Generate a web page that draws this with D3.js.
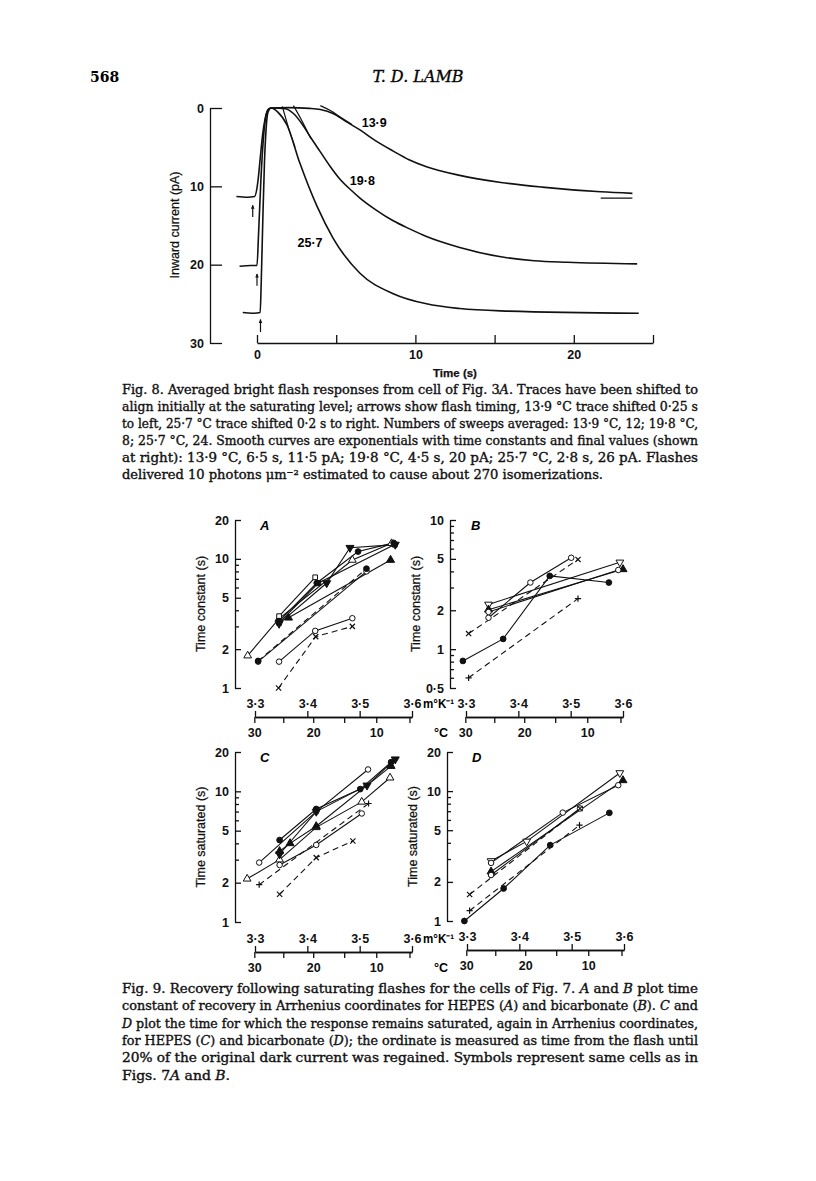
<!DOCTYPE html>
<meta charset="utf-8">
<style>
body{margin:0;background:#fff}
svg{display:block}
.ax text{font-family:"Liberation Sans",Arial,sans-serif;font-weight:bold;font-size:12.5px;fill:#111}
.ax path,.ax line{stroke:#111;stroke-width:1.3;fill:none}
.lbl{font-family:"Liberation Sans",Arial,sans-serif;font-size:12.5px;fill:#111;stroke:#111;stroke-width:0.25}
.cap{font-family:"DejaVu Serif Condensed","DejaVu Serif",serif;font-stretch:condensed;font-size:13px;fill:#111;stroke:#111;stroke-width:0.35}
.trace{fill:none;stroke:#111;stroke-width:1.6}
.ser{fill:none;stroke:#111;stroke-width:1.1}
</style>
<body>
<svg id="page" width="816" height="1181"></svg>
<script src="https://d3js.org/d3.v7.min.js"></script>
<script>
// ---- Fig. 8 data: averaged flash responses, [time (s), inward current (pA)]
var trace139 = [[-1.3,11.3],[-0.6,11.4],[-0.15,11.3],[0.05,9.5],[0.2,6.5],[0.35,3.5],[0.5,1.5],[0.65,0.4],[0.85,0],
  [2,-0.05],[3.3,0.05],[4.0,0.2],[4.8,0.7],[5.6,1.7],[6.5,2.8],[7.5,4.2],[8.6,5.5],[9.6,6.6],[10.7,7.5],
  [12.8,8.6],[15.4,9.5],[18,10.1],[21.7,10.7],[23.7,10.9]];
var trace198 = [[-1.1,20.2],[-0.4,20.1],[0,20.1],[0.1,16],[0.25,9],[0.4,4],[0.55,1.2],[0.75,0.1],[0.95,0],
  [1.8,0.1],[2.3,0.7],[2.9,2.2],[3.4,3.8],[4.0,5.6],[4.6,7.4],[5.2,9.0],[6.0,10.6],[6.5,11.5],[7.5,13.0],
  [8.6,14.4],[9.6,15.4],[10.7,16.4],[12.8,17.8],[15.4,19.0],[17.5,19.5],[19.6,19.7],[24,19.9]];
var trace257 = [[-0.9,26.1],[-0.3,26.2],[0.2,26.1],[0.27,22],[0.37,14],[0.47,7],[0.58,2.5],[0.7,0.5],[0.9,0],
  [1.3,0.5],[1.9,2.2],[2.7,7.0],[3.8,12.6],[4.8,16.6],[6.5,21.1],[8.6,23.7],[10.7,25.0],[12.8,25.6],
  [15.4,25.9],[24.1,26.2]];
// start of the fitted exponentials where they leave the traces
var fit139 = [[4.0,-0.3],[4.6,0.3],[5.3,1.2],[6.0,2.1]];
var fit198 = [[2.3,-0.3],[2.8,1.5],[3.4,3.9]];
var fit257 = [[1.6,-0.2],[2.0,2.6],[2.4,5.0]];
var finalLine139 = [[21.7,11.5],[23.7,11.5]];
// flash timing arrows: [time, bottom pA, top pA]
var flashArrows = [[-0.27,13.9,12.4],[0,22.7,21.2],[0.22,28.6,27.0]];
var traceLabels = [["13·9",7.4,1.9],["19·8",6.65,9.2],["25·7",3.35,17.2]];
var timeTicks = [0,5,10,15,20,25];
var currentTicks = [0,10,20,30];

// ---- Fig. 9 data: [1/T (m°K⁻¹), time (s)]
var seriesA = [
  {m:"ot", pts:[[3.286,1.78],[3.346,3.45],[3.486,9.8],[3.561,13.2]]},
  {m:"os", pts:[[3.346,3.6],[3.415,7.2]]},
  {m:"fc", pts:[[3.346,3.3],[3.418,6.5],[3.497,11.4],[3.565,13.3]]},
  {m:"fd", pts:[[3.346,3.15],[3.437,6.5],[3.4815,12.2],[3.568,12.9]]},
  {m:"fs", pts:[[3.346,3.2],[3.421,6.5],[3.567,12.9]]},
  {m:"ft", pts:[[3.364,3.5],[3.559,9.8]]},
  {m:"oc", pts:[[3.306,1.6],[3.513,8.0]]},
  {m:"fc", dash:true, pts:[[3.306,1.62],[3.513,8.4]]},
  {m:"oc", pts:[[3.346,1.6],[3.415,2.77],[3.486,3.47]]},
  {m:"x", dash:true, pts:[[3.345,1.0],[3.416,2.5],[3.486,3.0]]}
];
var seriesB = [
  {m:"fc", pts:[[3.294,0.81],[3.371,1.2],[3.46,3.69],[3.573,3.28]]},
  {m:"oc", pts:[[3.343,1.75],[3.423,3.28],[3.501,5.1]]},
  {m:"x", dash:true, pts:[[3.305,1.32],[3.514,4.95]]},
  {m:"+", dash:true, pts:[[3.305,0.6],[3.514,2.46]]},
  {m:"od", pts:[[3.343,2.22],[3.594,4.7]]},
  {m:"ft", pts:[[3.343,2.02],[3.6,4.15]]},
  {m:"oc", pts:[[3.343,1.94],[3.591,4.1]]}
];
var seriesC = [
  {m:"ot", pts:[[3.285,2.14],[3.347,3.0],[3.417,5.3],[3.504,8.3],[3.558,12.7]]},
  {m:"oc", pts:[[3.308,2.85],[3.417,7.0],[3.516,14.7]]},
  {m:"fc", pts:[[3.347,4.24],[3.417,7.33],[3.501,10.4],[3.56,16.7]]},
  {m:"fd", pts:[[3.347,3.3],[3.417,7.0],[3.514,11.1],[3.568,17.6]]},
  {m:"ft", pts:[[3.347,3.48],[3.367,4.0],[3.417,5.4],[3.56,15.6]]},
  {m:"oc", pts:[[3.347,2.73],[3.417,3.89],[3.504,6.77]]},
  {m:"+", dash:true, pts:[[3.308,1.93],[3.517,8.07]]},
  {m:"x", dash:true, pts:[[3.347,1.63],[3.417,3.11],[3.487,4.17]]}
];
var seriesD = [
  {m:"fc", pts:[[3.295,1.0],[3.37,1.78],[3.459,3.84],[3.572,6.8]]},
  {m:"od", pts:[[3.346,2.9],[3.414,4.1],[3.592,13.8]]},
  {m:"oc", pts:[[3.346,2.8],[3.483,6.83],[3.589,11.1]]},
  {m:"ft", pts:[[3.346,2.4],[3.598,12.1]]},
  {m:"oc", pts:[[3.346,2.26],[3.516,7.35]]},
  {m:"x", dash:true, pts:[[3.305,1.6],[3.516,7.35]]},
  {m:"+", dash:true, pts:[[3.305,1.2],[3.515,5.47]]}
];
var arrTicks = [3.3,3.4,3.5,3.6];
var celsiusTicks = [30,25,20,15,10,5];
var celsiusLabels = [30,20,10];
var yTicks20 = [1,2,3,4,5,6,7,8,9,10,20];
var yTicks10 = [0.5,0.6,0.7,0.8,0.9,1,2,3,4,5,6,7,8,9,10];
var yLabels = [0.5,1,2,5,10,20];

// ---- captions (*...* = italic); widths of the printed lines in px
var caption8 = [
  "Fig. 8. Averaged bright flash responses from cell of Fig. 3*A*. Traces have been shifted to",
  "align initially at the saturating level; arrows show flash timing, 13·9 °C trace shifted 0·25 s",
  "to left, 25·7 °C trace shifted 0·2 s to right. Numbers of sweeps averaged: 13·9 °C, 12; 19·8 °C,",
  "8; 25·7 °C, 24. Smooth curves are exponentials with time constants and final values (shown",
  "at right): 13·9 °C, 6·5 s, 11·5 pA; 19·8 °C, 4·5 s, 20 pA; 25·7 °C, 2·8 s, 26 pA. Flashes",
  "delivered 10 photons μm⁻² estimated to cause about 270 isomerizations."
];
var caption8Widths = [576,576,576,576,576,481];
var caption9 = [
  "Fig. 9. Recovery following saturating flashes for the cells of Fig. 7. *A* and *B* plot time",
  "constant of recovery in Arrhenius coordinates for HEPES (*A*) and bicarbonate (*B*). *C* and",
  "*D* plot the time for which the response remains saturated, again in Arrhenius coordinates,",
  "for HEPES (*C*) and bicarbonate (*D*); the ordinate is measured as time from the flash until",
  "20% of the original dark current was regained. Symbols represent same cells as in",
  "Figs. 7*A* and *B*."
];
var caption9Widths = [576,576,576,576,576,108];

var fmt = function(d){ return String(d).replace(".", "·"); };
var svg = d3.select("#page");
svg.append("rect").attr("width",816).attr("height",1181).attr("fill","#fff");

// header
svg.append("text").attr("x",90).attr("y",82)
  .style("font-family","DejaVu Serif,serif").style("font-weight","bold").style("font-size","14px")
  .text("568");
svg.append("text").attr("x",418).attr("y",82).attr("text-anchor","middle")
  .style("font-family","DejaVu Serif,serif").style("font-style","italic").style("font-size","16px")
  .style("stroke","#111").style("stroke-width",0.35)
  .text("T. D. LAMB");

// ================= Fig. 8 =================
var x8 = d3.scaleLinear().domain([0,25]).range([257,653]);
var y8 = d3.scaleLinear().domain([0,30]).range([108,343]);
var f8 = svg.append("g");

f8.append("g").attr("class","ax").attr("transform","translate(210,0)")
  .call(d3.axisLeft(y8).tickValues(currentTicks).tickSizeInner(-12).tickSizeOuter(0).tickPadding(6));
f8.append("g").attr("class","ax").attr("transform","translate(0,343)")
  .call(d3.axisBottom(x8).tickValues(timeTicks).tickSizeInner(-8).tickSizeOuter(0).tickPadding(7)
    .tickFormat(function(d){ return (d % 10 === 0 && d < 25) ? d : ""; }));

f8.append("text").attr("class","lbl").attr("transform","translate(179,225) rotate(-90)")
  .attr("text-anchor","middle").text("Inward current (pA)");
f8.append("text").attr("class","lbl").attr("x",455).attr("y",377)
  .attr("text-anchor","middle").style("font-weight","bold").style("font-size","11.5px").text("Time (s)");

var line8 = d3.line().x(function(d){return x8(d[0]);}).y(function(d){return y8(d[1]);}).curve(d3.curveMonotoneX);
[trace139, trace198, trace257].forEach(function(t){
  f8.append("path").attr("class","trace").attr("d", line8(t));
});
[fit139, fit198, fit257].forEach(function(t){
  f8.append("path").attr("class","trace").style("stroke-width",1.2).attr("d", line8(t));
});
f8.append("path").attr("class","trace").style("stroke-width",1.3)
  .attr("d", d3.line().x(function(d){return x8(d[0]);}).y(function(d){return y8(d[1]);})(finalLine139));

flashArrows.forEach(function(a){
  var x = x8(a[0]), yb = y8(a[1]), yt = y8(a[2]);
  f8.append("line").attr("x1",x).attr("x2",x).attr("y1",yb).attr("y2",yt).attr("stroke","#111").attr("stroke-width",1.2);
  f8.append("path").attr("d","M"+(x-1.8)+","+(yt+3.5)+"L"+x+","+(yt-0.5)+"L"+(x+1.8)+","+(yt+3.5)+"Z").attr("fill","#111");
});
traceLabels.forEach(function(l){
  f8.append("text").attr("x",x8(l[1])).attr("y",y8(l[2])+4.5).attr("text-anchor","middle")
    .style("font-family","Liberation Sans,Arial,sans-serif").style("font-weight","bold").style("font-size","12.5px")
    .text(l[0]);
});

// ================= captions =================
function caption(lines, widths, top, step){
  lines.forEach(function(s, i){
    var t = svg.append("text").attr("class","cap").attr("x",122).attr("y",top + i*step)
      .attr("textLength",widths[i]).attr("lengthAdjust","spacingAndGlyphs");
    s.split("*").forEach(function(part, j){
      t.append("tspan").style("font-style", j % 2 ? "italic" : "normal").text(part);
    });
  });
}
caption(caption8, caption8Widths, 394, 16.9);
caption(caption9, caption9Widths, 993, 17.3);

// ================= Fig. 9 panels =================
var panels = [
  {letter:"A", data:seriesA, x0:255, yAx:235, top:520, bot:688, dom:[1,20], yt:yTicks20, axY:717, title:"Time constant (s)", unitLab:true},
  {letter:"B", data:seriesB, x0:466, yAx:450, top:520, bot:688, dom:[0.5,10], yt:yTicks10, axY:717, title:"Time constant (s)", unitLab:false},
  {letter:"C", data:seriesC, x0:255, yAx:235, top:752, bot:922, dom:[1,20], yt:yTicks20, axY:952, title:"Time saturated (s)", unitLab:true},
  {letter:"D", data:seriesD, x0:467, yAx:447, top:752, bot:921, dom:[1,20], yt:yTicks20, axY:950, title:"Time saturated (s)", unitLab:false}
];

var sym = {
  oc:{t:d3.symbolCircle, s:24, fill:"#fff", rot:0},
  fc:{t:d3.symbolCircle, s:26, fill:"#111", rot:0},
  ot:{t:d3.symbolTriangle, s:26, fill:"#fff", rot:0},
  ft:{t:d3.symbolTriangle, s:28, fill:"#111", rot:0},
  od:{t:d3.symbolTriangle, s:26, fill:"#fff", rot:180},
  fd:{t:d3.symbolTriangle, s:28, fill:"#111", rot:180},
  os:{t:d3.symbolSquare, s:22, fill:"#fff", rot:0},
  fs:{t:d3.symbolSquare, s:24, fill:"#111", rot:0}
};

panels.forEach(function(p){
  var x = d3.scaleLinear().domain([3.3,3.6]).range([p.x0, p.x0 + 157]);
  var y = d3.scaleLog().domain(p.dom).range([p.bot, p.top]);
  var g = svg.append("g");

  g.append("g").attr("class","ax").attr("transform","translate("+p.yAx+",0)")
    .call(d3.axisLeft(y).tickValues(p.yt).tickSizeInner(-5).tickSizeOuter(0).tickPadding(6)
      .tickFormat(function(d){ return yLabels.indexOf(d) >= 0 ? fmt(d) : ""; }))
    .selectAll(".tick line").attr("x2", function(d){ return yLabels.indexOf(d) >= 0 ? 6 : 4; });

  g.append("g").attr("class","ax").attr("transform","translate(0,"+p.axY+")")
    .call(d3.axisTop(x).tickValues(arrTicks).tickSizeInner(6).tickSizeOuter(0).tickPadding(3).tickFormat(fmt));
  g.append("g").attr("class","ax").attr("transform","translate(0,"+p.axY+")")
    .call(d3.axisBottom(x).tickValues(celsiusTicks.map(function(c){ return 1000/(c+273.15); }))
      .tickSizeInner(6).tickSizeOuter(0).tickPadding(5)
      .tickFormat(function(d, i){ var c = celsiusTicks[i]; return celsiusLabels.indexOf(c) >= 0 ? c : ""; }));

  if (p.unitLab) {
    g.append("text").attr("x",p.x0 + 168).attr("y",p.axY - 9)
      .attr("textLength",31).attr("lengthAdjust","spacingAndGlyphs")
      .style("font-family","Liberation Sans,Arial,sans-serif").style("font-weight","bold").style("font-size","12px")
      .text("m°K⁻¹");
    g.append("text").attr("x",p.x0 + 193).attr("y",p.axY + 20).attr("text-anchor","end")
      .style("font-family","Liberation Sans,Arial,sans-serif").style("font-weight","bold").style("font-size","12.5px")
      .text("°C");
  }

  g.append("text").attr("class","lbl").attr("transform","translate("+(p.yAx-30)+","+((p.top+p.bot)/2)+") rotate(-90)")
    .attr("text-anchor","middle").text(p.title);
  g.append("text").attr("x",p.x0 + 5).attr("y",p.top + 10)
    .style("font-family","Liberation Sans,Arial,sans-serif").style("font-style","italic").style("font-weight","bold")
    .style("font-size","13px").text(p.letter);

  var ln = d3.line().x(function(d){return x(d[0]);}).y(function(d){return y(d[1]);});
  p.data.forEach(function(s){
    g.append("path").attr("class","ser").attr("d", ln(s.pts))
      .attr("stroke-dasharray", s.dash ? "6,4" : null);
  });
  p.data.forEach(function(s){
    s.pts.forEach(function(d){
      var px = x(d[0]), py = y(d[1]);
      if (s.m === "x" || s.m === "+") {
        var r = 2.6;
        var path = s.m === "x"
          ? "M"+(px-r)+","+(py-r)+"L"+(px+r)+","+(py+r)+"M"+(px-r)+","+(py+r)+"L"+(px+r)+","+(py-r)
          : "M"+(px-r-0.5)+","+py+"L"+(px+r+0.5)+","+py+"M"+px+","+(py-r-0.5)+"L"+px+","+(py+r+0.5);
        g.append("path").attr("d",path).attr("stroke","#111").attr("stroke-width",1.2);
      } else {
        var k = sym[s.m];
        g.append("path").attr("d", d3.symbol().type(k.t).size(k.s)())
          .attr("transform","translate("+px+","+py+") rotate("+k.rot+")")
          .attr("fill",k.fill).attr("stroke","#111").attr("stroke-width",1);
      }
    });
  });
});
</script>
</body>
